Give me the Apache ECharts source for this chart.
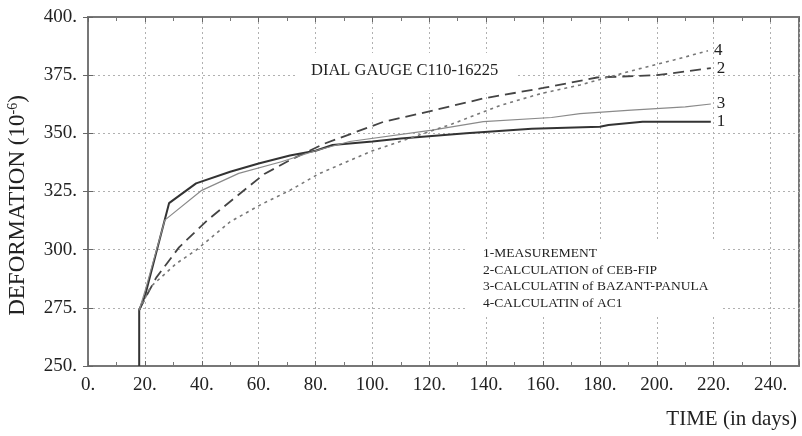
<!DOCTYPE html>
<html>
<head>
<meta charset="utf-8">
<script src="https://cdn.jsdelivr.net/npm/echarts@6/dist/echarts.min.js"></script>
<style>
  html, body { margin: 0; padding: 0; background: #fff; }
  #chart { width: 802px; height: 436px; }
</style>
</head>
<body>
<div id="chart"></div>
<script>
// values: [time (days), deformation (1e-6)]
var measurement = [[18,250],[18,274],[20,280],[28.5,320],[38,328.5],[50,333.5],[60,337],[71,340.5],
  [80,342.5],[86,345],[100,346.5],[110,347.8],[133,350],[156,352],[180,352.8],[183,353.6],[195,355],[219,355]];
var cebFip = [[18,274],[20.7,280.5],[24,288],[32,301],[42,312.7],[52,322.7],[62,332.5],[71,338.5],
  [83,345.5],[104,355],[122,360],[139,365],[160,369.5],[179,374],[200,375],[219,378]];
var bazant = [[18,274],[20,282],[27,312.7],[40,325.5],[53,332.8],[68,337.8],[80,342.5],[92,346.5],
  [121,351.4],[139,355],[163,356.8],[173,358.5],[191,360],[210,361.4],[219,362.6]];
var aci = [[18,274],[22,284],[31,294],[38,299.8],[50,312],[61,319.5],[71,325.5],[81,332.5],
  [100,342.5],[128,354],[145,362],[159,367],[173,370.8],[193,377.5],[206,381.5],[218,385.5]];

var legendLines = ['1-MEASUREMENT', '2-CALCULATION of CEB-FIP', '3-CALCULATIN of BAZANT-PANULA', '4-CALCULATIN of AC1'];
var title = 'DIAL GAUGE C110-16225';

var serif = '"Liberation Serif", "DejaVu Serif", serif';

var myChart = echarts.init(document.getElementById('chart'));

function baseX(pos, labels) {
  return {
    type: 'value', position: pos, min: 0, max: 250, interval: 20,
    axisLine: { show: true, lineStyle: { color: '#777', width: 2 } },
    axisTick: { show: true, inside: true, length: 5, lineStyle: { color: '#666' } },
    minorTick: { show: true, splitNumber: 2, length: 4, lineStyle: { color: '#777' } },
    splitLine: { show: labels, lineStyle: { color: '#b0b0b0', type: [2, 3], width: 1 } },
    axisLabel: {
      show: labels, margin: 10, color: '#222', fontFamily: serif, fontSize: 19,
      formatter: function (v) { return v > 240 ? '' : v + '.'; }
    }
  };
}
function baseY(pos, labels) {
  return {
    type: 'value', position: pos, min: 250, max: 400, interval: 25,
    axisLine: { show: true, lineStyle: { color: '#777', width: 2 } },
    axisTick: { show: true, inside: true, length: 5, lineStyle: { color: '#666' } },
    splitLine: { show: labels, lineStyle: { color: '#b0b0b0', type: [2, 3], width: 1 } },
    axisLabel: {
      show: labels, margin: 11, color: '#222', fontFamily: serif, fontSize: 19,
      formatter: function (v) { return v + '.'; }
    }
  };
}

var yLeft = baseY('left', true);
yLeft.name = 'DEFORMATION (10{sup|-6})';
yLeft.nameLocation = 'middle';
yLeft.nameRotate = 90;
yLeft.nameGap = 58;
yLeft.nameTextStyle = {
  color: '#222', fontFamily: serif, fontSize: 23, padding: [0, 0, 0, -28],
  rich: { sup: { fontFamily: serif, fontSize: 14, verticalAlign: 'top', padding: [0, 0, 10, 0] } }
};

function lineSeries(name, data, color, width, type, label) {
  return {
    name: name, type: 'line', data: data, xAxisIndex: 0, yAxisIndex: 0,
    showSymbol: false, symbol: 'none', smooth: false, z: 5,
    lineStyle: { color: color, width: width, type: type },
    endLabel: { show: true, formatter: label, color: '#222', fontFamily: serif, fontSize: 17, distance: 6 }
  };
}

var option = {
  animation: false,
  backgroundColor: '#fff',
  grid: { left: 88, right: 3, top: 17, bottom: 70, show: true, borderColor: '#777', borderWidth: 2,
    outerBoundsMode: 'none', containLabel: false },
  xAxis: [baseX('bottom', true), baseX('top', false)],
  yAxis: [yLeft, baseY('right', false)],
  series: [
    lineSeries('1', measurement, '#333', 2, 'solid', '1'),
    lineSeries('2', cebFip, '#444', 1.8, [11, 6], '2'),
    lineSeries('3', bazant, '#8a8a8a', 1.2, 'solid', '3'),
    lineSeries('4', aci, '#777', 1.6, [3, 4], '4')
  ],
  graphic: [
    { type: 'rect', left: 298, top: 53, shape: { width: 220, height: 40 }, style: { fill: '#fff' }, z: 1 },
    { type: 'text', left: 311, top: 62, z: 2,
      style: { text: title, fill: '#222', font: '16.5px ' + serif } },
    { type: 'rect', left: 465, top: 240, shape: { width: 255, height: 74 }, style: { fill: '#fff' }, z: 1 },
    { type: 'text', left: 483, top: 245, z: 2,
      style: { text: legendLines.join('\n'), fill: '#222', font: '13.5px ' + serif, lineHeight: 16.7 } },
    { type: 'text', right: 5, top: 409, z: 2,
      style: { text: 'TIME (in days)', fill: '#222', font: '21px ' + serif } }
  ]
};

myChart.setOption(option);
</script>
</body>
</html>
